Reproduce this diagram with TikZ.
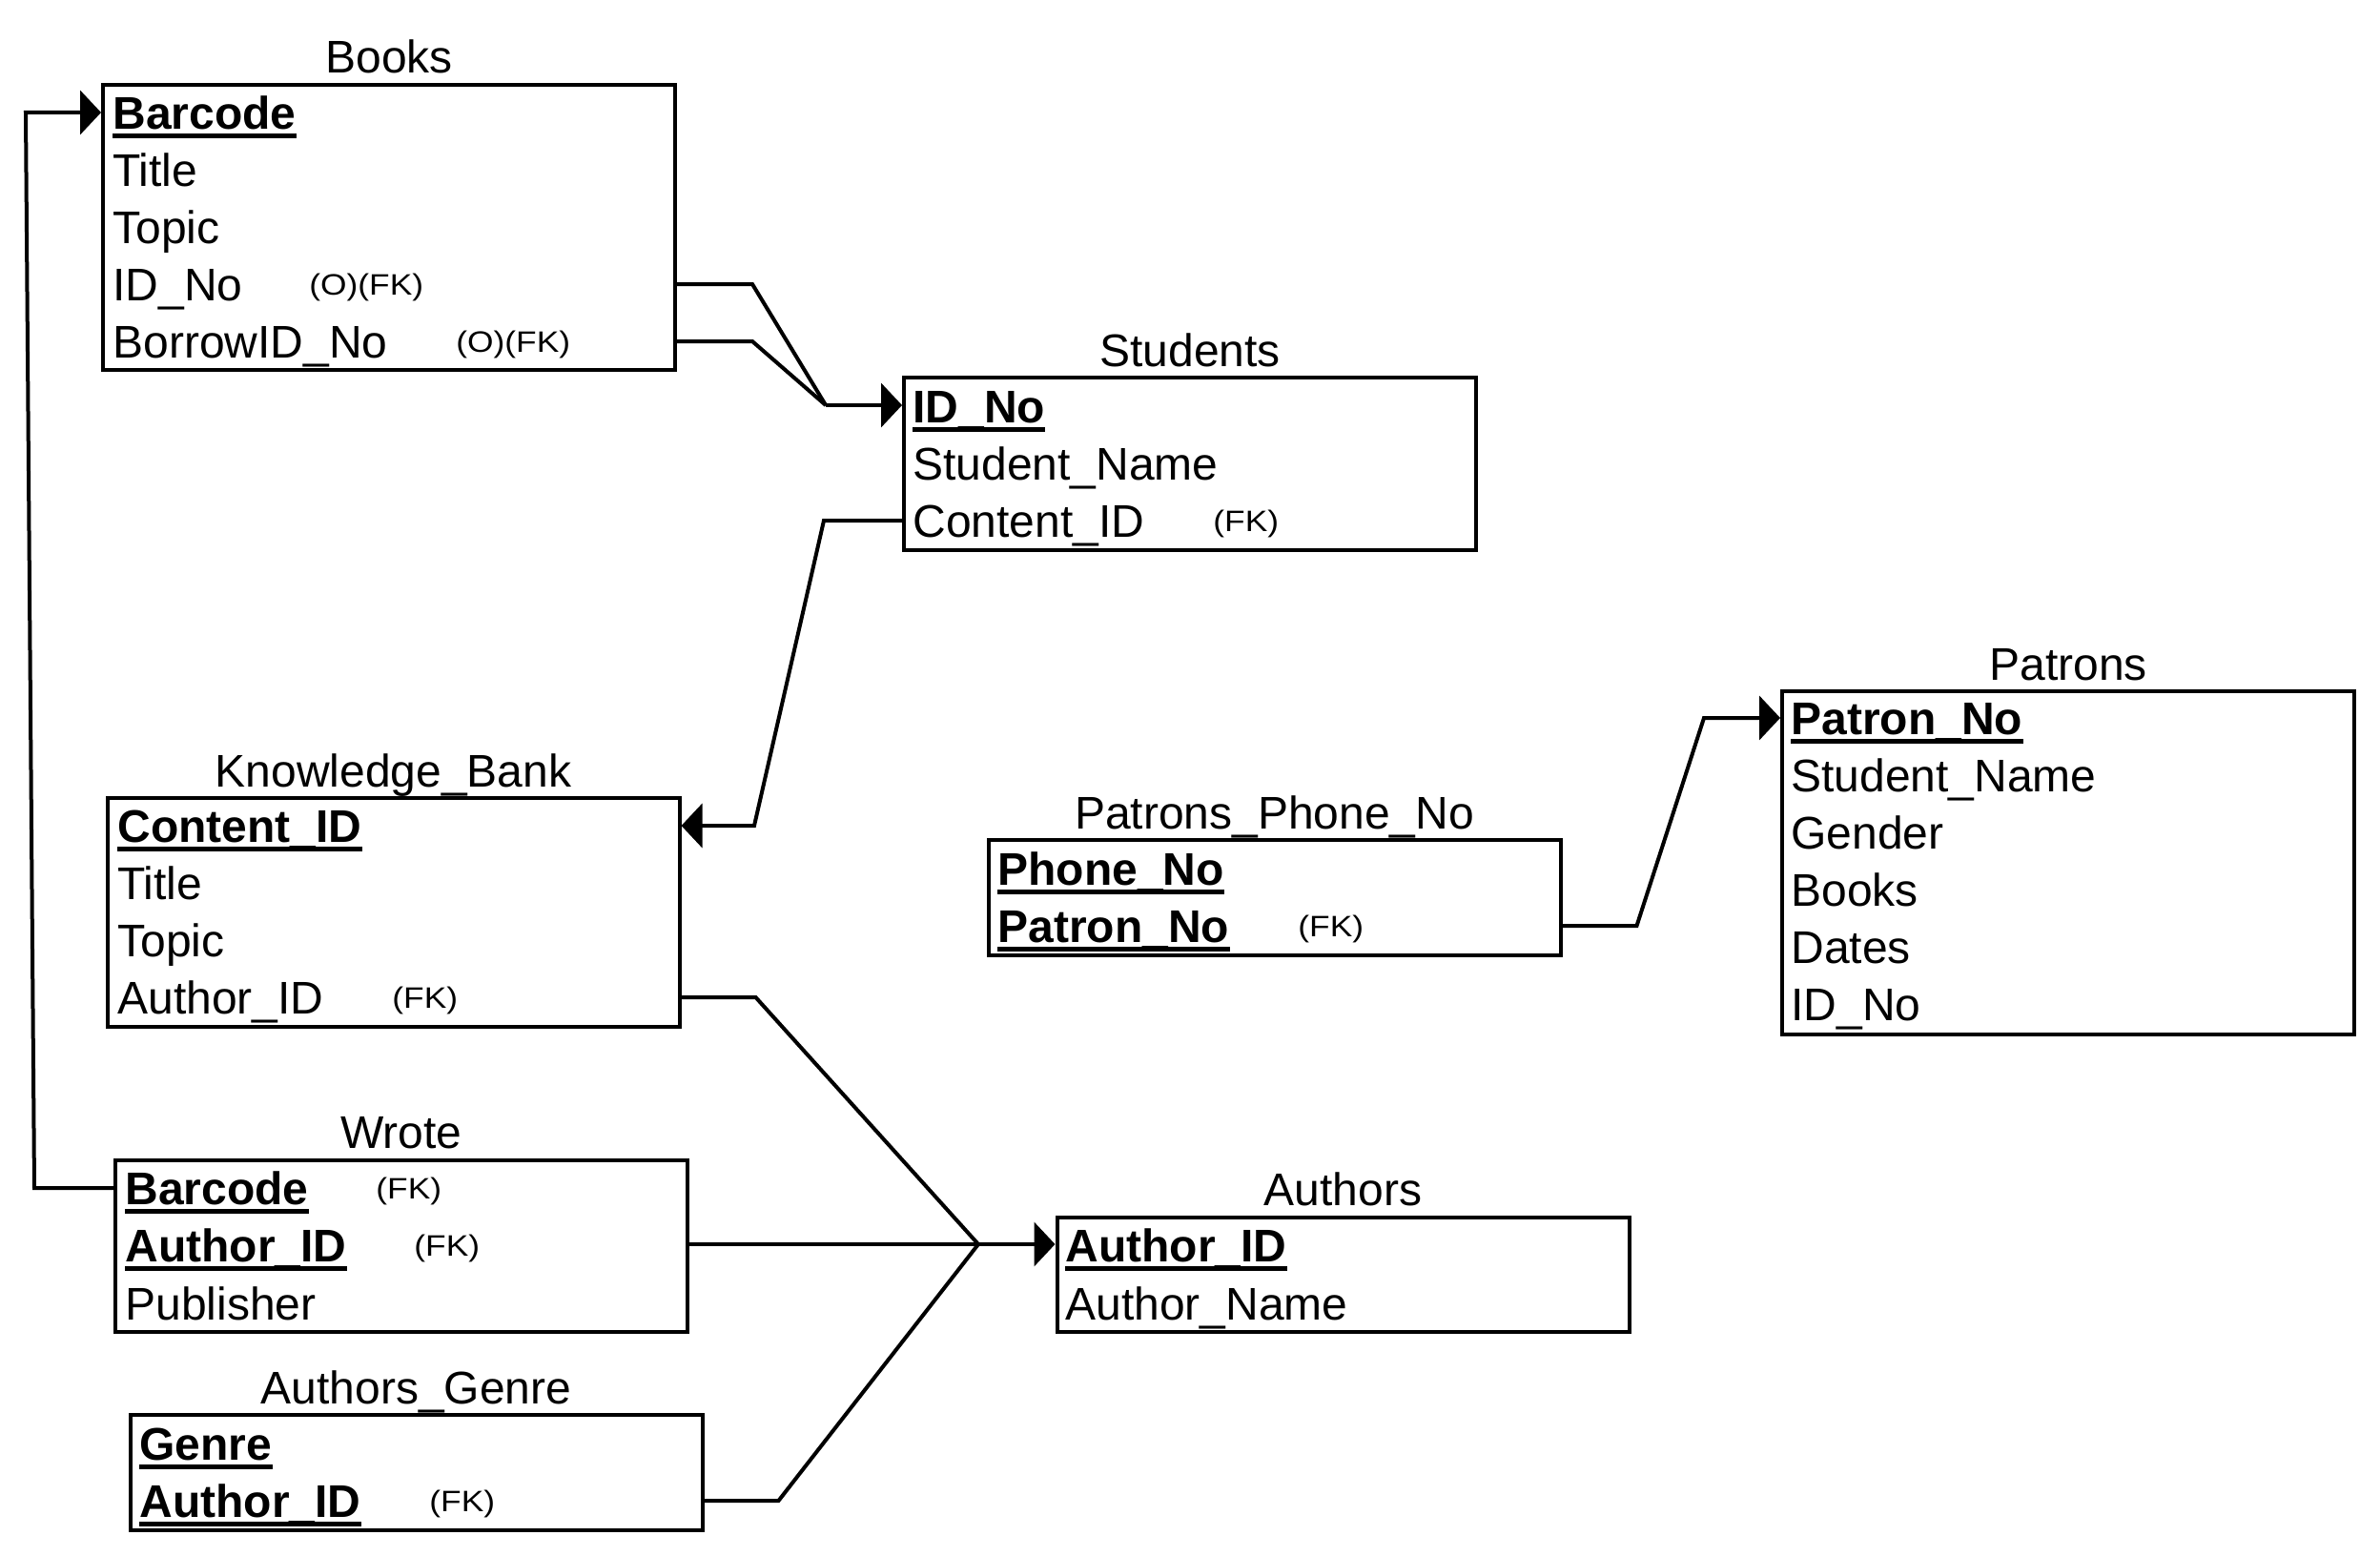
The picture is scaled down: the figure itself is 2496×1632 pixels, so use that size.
\documentclass[tikz,border=0pt]{standalone}
\usepackage{fontspec}
\setmainfont{Liberation Sans}
\usetikzlibrary{arrows.meta}
\newcommand{\fkwide}[1]{\scalebox{1.14}[1]{#1}}
\begin{document}
\begin{tikzpicture}[x=0.5pt,y=-0.5pt,
  tbl/.style={draw, line width=2pt, rectangle, inner sep=0pt, minimum width=300pt},
  ttl/.style={anchor=base, inner sep=0pt, font=\fontsize{24pt}{28pt}\selectfont},
  row/.style={anchor=west, inner sep=0pt, text height=17pt, text depth=0pt, font=\fontsize{24pt}{28pt}\selectfont},
  key/.style={row, font=\fontsize{24pt}{28pt}\selectfont\bfseries},
  fk/.style={anchor=west, inner sep=0pt, text height=11pt, text depth=0pt, font=\fontsize{15.5pt}{18pt}\selectfont},
  conn/.style={line width=2pt},
  arr/.style={conn, -{Triangle[length=11pt,width=23pt]}},
  uline/.style={line width=2.2pt}
]
\useasboundingbox (0,0) rectangle (2496,1632);

% tables
\node[tbl, minimum height=149.5pt] (books) at (408,238.5) {};
\node[tbl, minimum height=90.5pt] (students) at (1248,486.5) {};
\node[tbl, minimum height=120pt] (kb) at (412.5,957) {};
\node[tbl, minimum height=90pt] (wrote) at (421,1307) {};
\node[tbl, minimum height=60.5pt] (ag) at (436.5,1544.5) {};
\node[tbl, minimum height=60pt] (authors) at (1408.5,1337) {};
\node[tbl, minimum height=60.5pt] (ppn) at (1336.5,941.5) {};
\node[tbl, minimum height=180pt] (patrons) at (2169,905) {};

% titles
\node[ttl] (booksT) at ([yshift=5pt]books.north) {Books};
\node[ttl] (studentsT) at ([yshift=5pt]students.north) {Students};
\node[ttl] (kbT) at ([yshift=5pt]kb.north) {Knowledge\_Bank};
\node[ttl] (wroteT) at ([yshift=5.5pt]wrote.north) {Wrote};
\node[ttl] (agT) at ([yshift=5pt]ag.north) {Authors\_Genre};
\node[ttl] (authorsT) at ([yshift=5.5pt]authors.north) {Authors};
\node[ttl] (ppnT) at ([yshift=5pt]ppn.north) {Patrons\_Phone\_No};
\node[ttl] (patronsT) at ([yshift=5pt]patrons.north) {Patrons};

% Books rows
\node[key] (bk1) at (118,118) {Barcode};
\node[row] (bk2) at (118,178) {Title};
\node[row] (bk3) at (118,238) {Topic};
\node[row] (bk4) at (118,298) {ID\_No};
\node[row] (bk5) at (118,358) {BorrowID\_No};
\node[fk] (bk4fk) at ([xshift=103pt]bk4.west) {\fkwide{(O)(FK)}};
\node[fk] (bk5fk) at ([xshift=180pt]bk5.west) {\fkwide{(O)(FK)}};

% Students rows
\node[key] (st1) at (957,426) {ID\_No};
\node[row] (st2) at (957,486) {Student\_Name};
\node[row] (st3) at (957,546) {Content\_ID};
\node[fk] (st3fk) at ([xshift=157.5pt]st3.west) {\fkwide{(FK)}};

% Knowledge_Bank rows
\node[key] (kb1) at (123,866) {Content\_ID};
\node[row] (kb2) at (123,926) {Title};
\node[row] (kb3) at (123,986) {Topic};
\node[row] (kb4) at (123,1046) {Author\_ID};
\node[fk] (kb4fk) at ([xshift=144pt]kb4.west) {\fkwide{(FK)}};

% Wrote rows
\node[key] (wr1) at (131,1246) {Barcode};
\node[key] (wr2) at (131,1306) {Author\_ID};
\node[row] (wr3) at (131,1367) {Publisher};
\node[fk] (wr1fk) at ([xshift=131.5pt]wr1.west) {\fkwide{(FK)}};
\node[fk] (wr2fk) at ([xshift=151.5pt]wr2.west) {\fkwide{(FK)}};

% Authors_Genre rows
\node[key] (ag1) at (146,1514) {Genre};
\node[key] (ag2) at (146,1574) {Author\_ID};
\node[fk] (ag2fk) at ([xshift=152pt]ag2.west) {\fkwide{(FK)}};

% Authors rows
\node[key] (au1) at (1117,1306) {Author\_ID};
\node[row] (au2) at (1117,1367) {Author\_Name};

% Patrons_Phone_No rows
\node[key] (pp1) at (1046,911) {Phone\_No};
\node[key] (pp2) at (1046,971) {Patron\_No};
\node[fk] (pp2fk) at ([xshift=157.5pt]pp2.west) {\fkwide{(FK)}};

% Patrons rows
\node[key] (pa1) at (1878,753) {Patron\_No};
\node[row] (pa2) at (1878,813) {Student\_Name};
\node[row] (pa3) at (1878,873) {Gender};
\node[row] (pa4) at (1878,933) {Books};
\node[row] (pa5) at (1878,993) {Dates};
\node[row] (pa6) at (1878,1053) {ID\_No};

% underlines of keys
\foreach \n in {bk1,st1,kb1,wr1,wr2,ag1,ag2,au1,pp1,pp2,pa1}
  \draw[uline] ([yshift=-3.5pt]\n.south west) -- ([yshift=-3.5pt]\n.south east);

% connectors
\coordinate (j1) at (866,425);
\coordinate (j2) at (1026,1305);
\draw[conn] (books.east |- bk4) -- ++(79,0) -- (j1);
\draw[conn] (books.east |- bk5) -- ++(79,0) -- (j1);
\draw[arr] (j1) -- (students.west |- j1);
\draw[arr] (students.west |- st3) -- ++(-82,0) -- (791,866) -- (kb.east |- kb1);
\draw[conn] (kb.east |- kb4) -- ++(78,0) -- (j2);
\draw[conn] (wrote.east |- j2) -- (j2);
\draw[conn] (ag.east |- ag2) -- ++(78,0) -- (j2);
\draw[arr] (j2) -- (authors.west |- j2);
\draw[arr] (wrote.west |- wr1) -- ++(-83,0) -- (27,118) -- (books.west |- bk1);
\draw[arr] (ppn.east |- pp2) -- ++(78,0) -- (1787,753) -- (patrons.west |- pa1);
\end{tikzpicture}
\end{document}
